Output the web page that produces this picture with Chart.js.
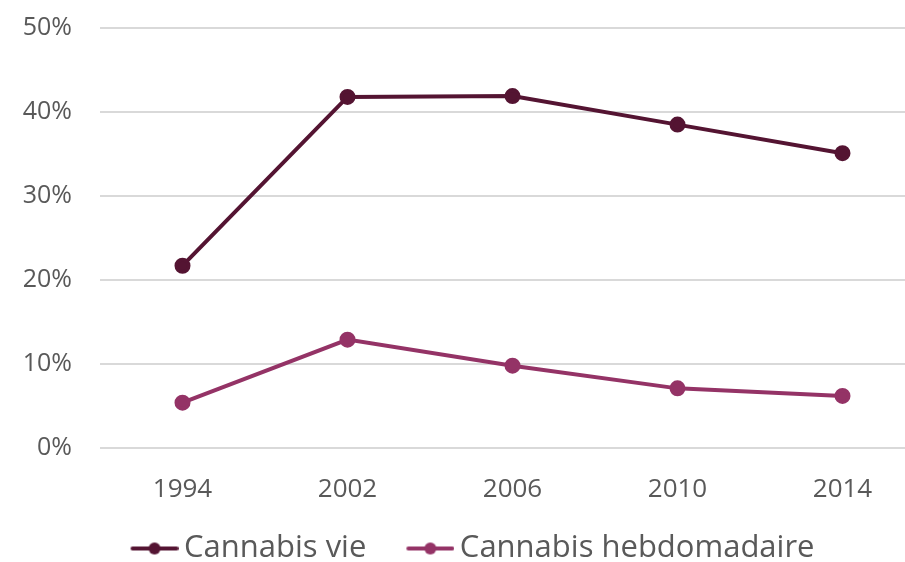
<!DOCTYPE html>
<html>
<head>
<meta charset="utf-8">
<script src="https://cdn.jsdelivr.net/npm/chart.js@4.4.0/dist/chart.umd.min.js"></script>
<style>
  html, body { margin: 0; padding: 0; background: #fff; overflow: hidden; }
  #wrap { width: 935px; height: 589px; margin-top: -15px; }
</style>
</head>
<body>
<div id="wrap"><canvas id="graph"></canvas></div>
<script>
// valeurs
const annees = ['1994', '2002', '2006', '2010', '2014'];
const cannabisVie = [21.7, 41.8, 41.9, 38.5, 35.1];
const cannabisHebdo = [5.4, 12.9, 9.8, 7.1, 6.2];
const noms = ['Cannabis vie', 'Cannabis hebdomadaire'];
const couleurs = ['#541432', '#943366'];

// petit symbole de legende : trait + point
// (image plus large a gauche pour coller le trait au texte)
function symbole(couleur) {
  const c = document.createElement('canvas');
  c.width = 68; c.height = 16;
  const g = c.getContext('2d');
  g.strokeStyle = couleur;
  g.lineWidth = 4;
  g.lineCap = 'round';
  g.beginPath(); g.moveTo(22, 8); g.lineTo(66, 8); g.stroke();
  g.fillStyle = couleur;
  g.beginPath(); g.arc(44, 8, 6, 0, Math.PI * 2); g.fill();
  return c;
}

const ctx = document.getElementById('graph').getContext('2d');
const series = [cannabisVie, cannabisHebdo];

new Chart(ctx, {
  type: 'line',
  data: {
    labels: annees,
    datasets: series.map((d, i) => ({
      label: noms[i],
      data: d,
      borderColor: couleurs[i],
      backgroundColor: couleurs[i],
      borderWidth: 4,
      pointRadius: 6,
      pointHoverRadius: 6,
      pointStyle: 'circle',
      tension: 0
    }))
  },
  options: {
    responsive: true,
    maintainAspectRatio: false,
    animation: false,
    layout: { padding: { top: 14, bottom: 0, left: 0, right: 0 } },
    plugins: {
      tooltip: { enabled: false },
      legend: {
        position: 'bottom',
        labels: {
          color: '#595959',
          font: { family: 'Open Sans', size: 31 },
          usePointStyle: true,
          pointStyleWidth: 48,
          padding: 30,
          generateLabels: (chart) => chart.data.datasets.map((ds, i) => ({
            text: ds.label,
            pointStyle: symbole(couleurs[i]),
            fillStyle: couleurs[i],
            strokeStyle: couleurs[i],
            fontColor: '#595959',
            lineWidth: 0,
            datasetIndex: i
          }))
        }
      }
    },
    scales: {
      x: {
        offset: true,
        afterFit: (s) => { s.height = 55; },
        grid: { display: false, drawTicks: false },
        border: { display: false },
        ticks: {
          color: '#595959',
          font: { family: 'Open Sans', size: 26 },
          padding: 26
        }
      },
      y: {
        min: 0,
        max: 50,
        afterFit: (s) => { s.width = 100; },
        grid: { color: '#d9d9d9', lineWidth: 2, drawTicks: false },
        border: { display: false },
        ticks: {
          stepSize: 10,
          color: '#595959',
          font: { family: 'Open Sans', size: 25 },
          padding: 28,
          callback: (v) => v + '%'
        }
      }
    }
  }
});
</script>
</body>
</html>
